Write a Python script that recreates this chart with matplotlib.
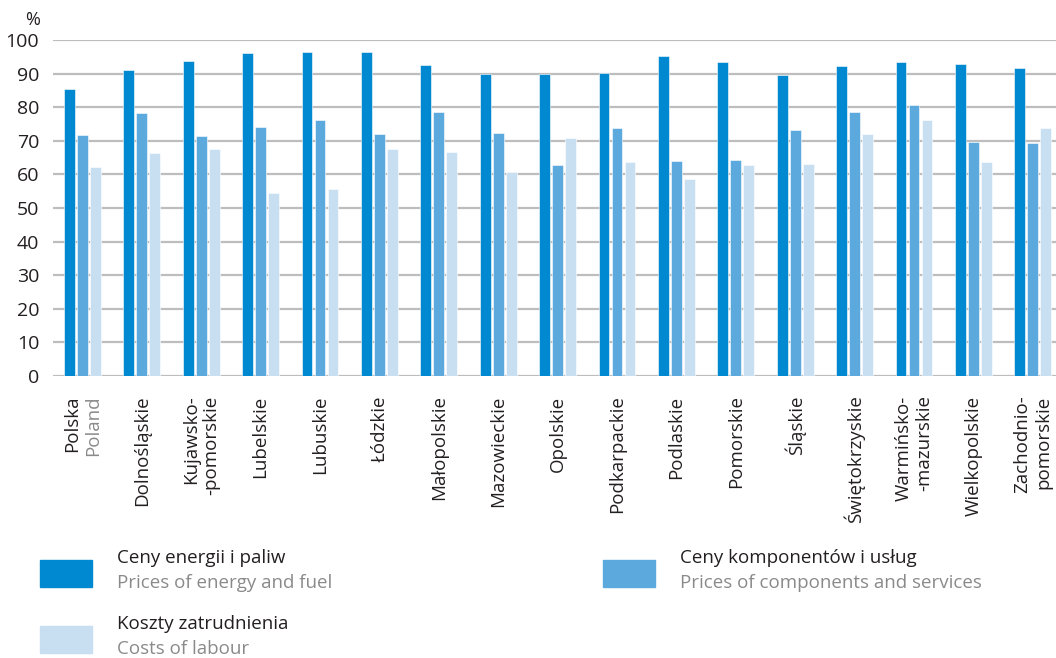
import matplotlib.pyplot as plt
from matplotlib.patches import Rectangle
import numpy as np

plt.rcParams['font.family'] = ['Open Sans', 'DejaVu Sans']

regions = ['Polska', 'Dolnośląskie', 'Kujawsko-\n-pomorskie', 'Lubelskie', 'Lubuskie',
           'Łódzkie', 'Małopolskie', 'Mazowieckie', 'Opolskie', 'Podkarpackie',
           'Podlaskie', 'Pomorskie', 'Śląskie', 'Świętokrzyskie',
           'Warmińsko-\n-mazurskie', 'Wielkopolskie', 'Zachodnio-\npomorskie']

energy = [85.4, 91.1, 93.8, 96.1, 96.4, 96.5, 92.5, 89.9, 89.9, 90.1,
          95.2, 93.4, 89.6, 92.3, 93.5, 92.8, 91.7]
components = [71.7, 78.3, 71.4, 74.1, 76.2, 71.9, 78.5, 72.2, 62.8, 73.7,
              63.9, 64.3, 73.3, 78.5, 80.7, 69.5, 69.3]
labour = [62.2, 66.4, 67.6, 54.5, 55.7, 67.6, 66.7, 60.8, 70.9, 63.6,
          58.6, 62.7, 63.0, 72.1, 76.2, 63.6, 73.8]

series_pl = ['Ceny energii i paliw', 'Ceny komponentów i usług', 'Koszty zatrudnienia']
series_en = ['Prices of energy and fuel', 'Prices of components and services', 'Costs of labour']
colors = ['#0088d1', '#5caadd', '#c8dff2']

W, H = 1056, 658
fig = plt.figure(figsize=(W / 100, H / 100), dpi=100)
ax = fig.add_axes([53 / W, 1 - 376 / H, 1 - 53 / W, (376 - 40) / H])

x = np.arange(len(regions))
pitch = 0.219
width = 0.18
for i, vals in enumerate([energy, components, labour]):
    ax.bar(x + (i - 1) * pitch, vals, width, color=colors[i], zorder=3,
           edgecolor='white', linewidth=0.4)

ax.set_ylim(0, 100)
ax.set_xlim(-0.495, len(regions) - 1 + 0.39)
ax.set_yticks(range(0, 101, 10))
ax.grid(axis='y', color='#bdbdbd', linewidth=1.6, zorder=0)
ax.set_axisbelow(True)
for s in ax.spines.values():
    s.set_visible(False)
ax.tick_params(axis='y', length=0, pad=10, labelsize=14, labelcolor='#231f20')

labels = [''] + regions[1:]
ax.set_xticks(x, labels, rotation=90, ha='center', va='top', multialignment='right')
ax.tick_params(axis='x', length=0, pad=14, labelsize=13.5, labelcolor='#231f20')

# Polska / Poland two-colour label
ax.annotate('Polska', xy=(0, 0), xycoords=('data', 'axes fraction'),
            xytext=(-7.5, -14), textcoords='offset points', rotation=90,
            ha='center', va='top', fontsize=13.5, color='#231f20')
ax.annotate('Poland', xy=(0, 0), xycoords=('data', 'axes fraction'),
            xytext=(7.5, -14), textcoords='offset points', rotation=90,
            ha='center', va='top', fontsize=13.5, color='#8a8a8a')

fig.text(33 / W, 1 - 20 / H, '%', ha='center', va='center', fontsize=13, color='#231f20')

# legend
legend_pos = [(40, 560), (603, 560), (40, 626)]
for i, (lx, ly) in enumerate(legend_pos):
    fig.patches.append(Rectangle((lx / W, 1 - (ly + 27) / H), 52 / W, 27 / H,
                                 transform=fig.transFigure, color=colors[i]))
    fig.text((lx + 77) / W, 1 - (ly - 2) / H, series_pl[i], ha='left', va='center',
             fontsize=13.5, color='#231f20')
    fig.text((lx + 77) / W, 1 - (ly + 23) / H, series_en[i], ha='left', va='center',
             fontsize=13.5, color='#8a8a8a')

fig.savefig('out.png', dpi=100)
